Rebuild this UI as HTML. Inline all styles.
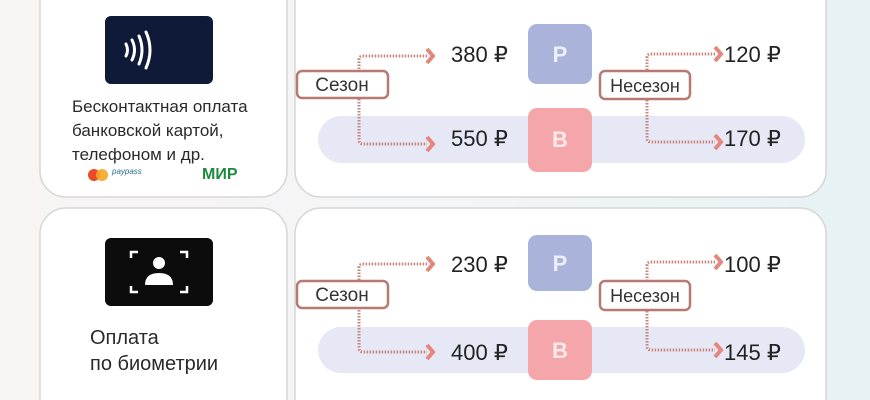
<!DOCTYPE html>
<html><head><meta charset="utf-8"><style>
html,body{margin:0;padding:0;width:870px;height:400px;overflow:hidden;background:linear-gradient(90deg,#f7f4f3 0%,#f4f5f7 50%,#e6f2f4 100%);}
svg{display:block}
svg text{font-family:"Liberation Sans",sans-serif;}
</style></head><body>
<svg width="870" height="400" viewBox="0 0 870 400" xmlns="http://www.w3.org/2000/svg">
<defs>
<g id="conn">
  <path d="M0 0 V-18 Q0 -22 4 -22 H68" fill="none" stroke="#c9847e" stroke-width="3" stroke-dasharray="1.5 1.5"/>
  <path d="M0 0 V62 Q0 66 4 66 H68" fill="none" stroke="#c9847e" stroke-width="3" stroke-dasharray="1.5 1.5"/>
  <path d="M68 -29 L74 -22 L68 -15" fill="none" stroke="#e4877c" stroke-width="4"/>
  <path d="M68 59 L74 66 L68 73" fill="none" stroke="#e4877c" stroke-width="4"/>
</g>
<clipPath id="c"><rect x="0" y="0" width="870" height="400"/></clipPath>
</defs>
<g clip-path="url(#c)">
<rect x="40" y="-25" width="247" height="222" rx="26" fill="#fff" stroke="#d6d6d6" stroke-width="1.5"/>
<rect x="295" y="-25" width="531" height="222" rx="26" fill="#fff" stroke="#d6d6d6" stroke-width="1.5"/>
<rect x="40" y="208" width="247" height="220" rx="26" fill="#fff" stroke="#d6d6d6" stroke-width="1.5"/>
<rect x="295" y="208" width="531" height="220" rx="26" fill="#fff" stroke="#d6d6d6" stroke-width="1.5"/>

<rect x="105" y="16" width="108" height="68" rx="6" fill="#0f1a38"/>
<g fill="none" stroke="#fff" stroke-width="3" stroke-linecap="round">
<path d="M126 44 Q129 50 126 56"/><path d="M132 40 Q137 50 132 60"/><path d="M139 36 Q145 50 139 64"/><path d="M146 32 Q154 50 146 68"/>
</g>
<text x="72" y="112" font-size="17" fill="#2a2a2a">Бесконтактная оплата</text>
<text x="72" y="136" font-size="17" fill="#2a2a2a">банковской картой,</text>
<text x="72" y="160" font-size="17" fill="#2a2a2a">телефоном и др.</text>
<circle cx="94" cy="175" r="6" fill="#e94a2a"/><circle cx="102" cy="175" r="6" fill="#f5a623" opacity="0.9"/>
<text x="112" y="174" font-size="8" font-style="italic" fill="#2a6e8c">paypass</text>
<text x="202" y="179" font-size="16" font-weight="bold" fill="#1d8a3f">МИР</text>

<rect x="105" y="238" width="108" height="68" rx="6" fill="#0c0c0c"/>
<g fill="none" stroke="#fff" stroke-width="2.5">
<path d="M131 258 V252 H138"/><path d="M180 252 H187 V258"/><path d="M131 286 V292 H138"/><path d="M187 286 V292 H180"/>
</g>
<circle cx="159" cy="263" r="6" fill="#fff"/>
<path d="M145 285 Q145 273 159 273 Q173 273 173 285 Z" fill="#fff"/>
<text x="90" y="344" font-size="20" fill="#2a2a2a">Оплата</text>
<text x="90" y="370" font-size="20" fill="#2a2a2a">по биометрии</text>

<rect x="318" y="116" width="487" height="47" rx="23.5" fill="#e6e9f5"/>
<use href="#conn" x="359" y="78"/>
<rect x="297" y="71" width="91" height="27" rx="5" fill="#fff" stroke="#b77a72" stroke-width="2.5"/>
<text x="342" y="91" font-size="19" text-anchor="middle" fill="#333">Сезон</text>
<text x="451" y="62" font-size="22" fill="#222">380 ₽</text>
<text x="451" y="146" font-size="22" fill="#222">550 ₽</text>
<rect x="528" y="24" width="64" height="60" rx="9" fill="#aab3d9"/>
<text x="560" y="62" font-size="22" font-weight="bold" text-anchor="middle" fill="#eef0fa">P</text>
<rect x="528" y="108" width="64" height="64" rx="9" fill="#f4a6ab"/>
<text x="560" y="147" font-size="22" font-weight="bold" text-anchor="middle" fill="#fde9ea">B</text>
<use href="#conn" x="647" y="76"/>
<rect x="600" y="71" width="90" height="28" rx="5" fill="#fff" stroke="#b77a72" stroke-width="2.5"/>
<text x="645" y="92" font-size="18" text-anchor="middle" fill="#333">Несезон</text>
<text x="724" y="62" font-size="22" fill="#222">120 ₽</text>
<text x="724" y="146" font-size="22" fill="#222">170 ₽</text>

<rect x="318" y="327" width="487" height="46" rx="23" fill="#e6e9f5"/>
<use href="#conn" x="359" y="286"/>
<rect x="297" y="281" width="91" height="27" rx="5" fill="#fff" stroke="#b77a72" stroke-width="2.5"/>
<text x="342" y="301" font-size="19" text-anchor="middle" fill="#333">Сезон</text>
<text x="451" y="272" font-size="22" fill="#222">230 ₽</text>
<text x="451" y="360" font-size="22" fill="#222">400 ₽</text>
<rect x="528" y="235" width="64" height="56" rx="9" fill="#aab3d9"/>
<text x="560" y="271" font-size="22" font-weight="bold" text-anchor="middle" fill="#eef0fa">P</text>
<rect x="528" y="320" width="64" height="60" rx="9" fill="#f4a6ab"/>
<text x="560" y="358" font-size="22" font-weight="bold" text-anchor="middle" fill="#fde9ea">B</text>
<use href="#conn" x="647" y="284"/>
<rect x="600" y="281" width="90" height="29" rx="5" fill="#fff" stroke="#b77a72" stroke-width="2.5"/>
<text x="645" y="302" font-size="18" text-anchor="middle" fill="#333">Несезон</text>
<text x="724" y="272" font-size="22" fill="#222">100 ₽</text>
<text x="724" y="360" font-size="22" fill="#222">145 ₽</text>
</g>
</svg>
</body></html>
